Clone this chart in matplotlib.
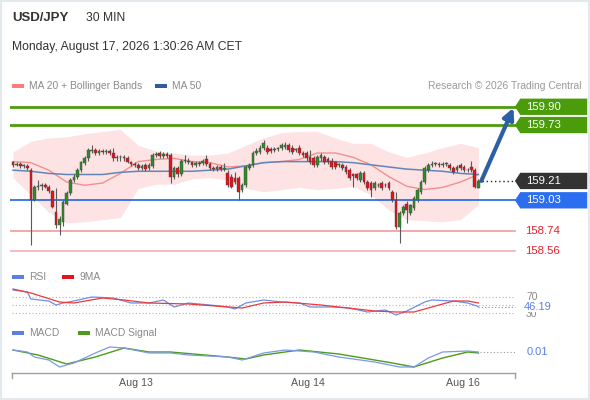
import numpy as np
import matplotlib
matplotlib.use("Agg")
import matplotlib.pyplot as plt
from matplotlib.patches import Polygon, Rectangle
from matplotlib import transforms
from matplotlib.lines import Line2D

plt.rcParams['font.family'] = ['Liberation Sans', 'DejaVu Sans']

# 30 min candles, USD/JPY
opens = [159.39, 159.36, 159.37, 159.35, 159.35, 159.31, 159.03, 159.15, 159.16, 159.17,
         159.15, 159.12, 158.92, 158.80, 158.83, 159.00, 159.10, 159.22, 159.25, 159.31,
         159.38, 159.42, 159.49, 159.50, 159.47, 159.49, 159.48, 159.49, 159.47, 159.42,
         159.43, 159.43, 159.42, 159.39, 159.37, 159.36, 159.33, 159.36, 159.33, 159.35,
         159.45, 159.47, 159.44, 159.46, 159.45, 159.25, 159.33, 159.27, 159.40, 159.40,
         159.39, 159.36, 159.38, 159.38, 159.41, 159.37, 159.33, 159.32, 159.34, 159.32,
         159.28, 159.25, 159.24, 159.24, 159.13, 159.17, 159.33, 159.36, 159.47, 159.48,
         159.52, 159.52, 159.51, 159.50, 159.51, 159.52, 159.53, 159.54, 159.52, 159.50,
         159.52, 159.47, 159.47, 159.43, 159.42, 159.36, 159.42, 159.43, 159.41, 159.40,
         159.39, 159.36, 159.36, 159.34, 159.31, 159.27, 159.27, 159.22, 159.28, 159.20,
         159.19, 159.14, 159.17, 159.19, 159.17, 159.19, 159.11, 159.03, 158.78, 158.91,
         159.00, 158.91, 158.96, 159.03, 159.11, 159.20, 159.31, 159.36, 159.37, 159.37,
         159.36, 159.37, 159.36, 159.33, 159.31, 159.36, 159.34, 159.31, 159.34, 159.31, 159.14]
closes = [159.36, 159.37, 159.35, 159.35, 159.33, 159.03, 159.15, 159.16, 159.17, 159.15,
          159.12, 158.97, 158.80, 158.86, 159.01, 159.10, 159.22, 159.25, 159.31, 159.39,
          159.42, 159.50, 159.50, 159.47, 159.49, 159.48, 159.49, 159.47, 159.42, 159.43,
          159.43, 159.42, 159.39, 159.37, 159.36, 159.33, 159.35, 159.32, 159.36, 159.45,
          159.46, 159.44, 159.46, 159.44, 159.25, 159.33, 159.27, 159.40, 159.40, 159.39,
          159.36, 159.38, 159.37, 159.40, 159.37, 159.33, 159.32, 159.34, 159.32, 159.33,
          159.17, 159.15, 159.20, 159.11, 159.17, 159.34, 159.36, 159.47, 159.49, 159.52,
          159.56, 159.48, 159.49, 159.51, 159.51, 159.54, 159.54, 159.50, 159.48, 159.50,
          159.47, 159.45, 159.42, 159.39, 159.36, 159.43, 159.45, 159.39, 159.39, 159.34,
          159.34, 159.36, 159.33, 159.29, 159.24, 159.26, 159.24, 159.28, 159.20, 159.14,
          159.13, 159.19, 159.17, 159.14, 159.17, 159.14, 159.03, 158.78, 158.91, 158.97,
          158.94, 158.99, 159.05, 159.13, 159.20, 159.33, 159.36, 159.37, 159.37, 159.36,
          159.37, 159.37, 159.33, 159.29, 159.34, 159.33, 159.31, 159.31, 159.31, 159.15, 159.21]
highs = [159.40, 159.39, 159.39, 159.37, 159.37, 159.33, 159.17, 159.22, 159.19, 159.19,
         159.17, 159.13, 159.14, 158.88, 159.03, 159.12, 159.24, 159.27, 159.33, 159.40,
         159.44, 159.52, 159.54, 159.52, 159.51, 159.51, 159.51, 159.51, 159.52, 159.45,
         159.45, 159.45, 159.44, 159.40, 159.39, 159.38, 159.37, 159.38, 159.38, 159.47,
         159.48, 159.49, 159.48, 159.48, 159.47, 159.35, 159.35, 159.41, 159.45, 159.42,
         159.40, 159.40, 159.40, 159.41, 159.45, 159.39, 159.35, 159.36, 159.36, 159.38,
         159.31, 159.27, 159.29, 159.26, 159.19, 159.36, 159.38, 159.49, 159.52, 159.54,
         159.59, 159.54, 159.53, 159.53, 159.53, 159.56, 159.57, 159.56, 159.54, 159.52,
         159.54, 159.49, 159.49, 159.50, 159.44, 159.45, 159.47, 159.45, 159.43, 159.42,
         159.40, 159.38, 159.38, 159.36, 159.33, 159.28, 159.28, 159.30, 159.30, 159.22,
         159.21, 159.21, 159.19, 159.21, 159.19, 159.21, 159.13, 159.11, 158.93, 158.99,
         159.02, 159.00, 159.07, 159.14, 159.22, 159.35, 159.38, 159.40, 159.39, 159.39,
         159.39, 159.39, 159.38, 159.35, 159.36, 159.38, 159.36, 159.33, 159.40, 159.33, 159.23]
lows = [159.34, 159.35, 159.33, 159.33, 159.31, 158.61, 159.02, 159.13, 159.13, 159.14,
        159.10, 158.96, 158.77, 158.71, 158.79, 158.99, 159.08, 159.20, 159.23, 159.29,
        159.36, 159.40, 159.47, 159.45, 159.45, 159.46, 159.46, 159.45, 159.40, 159.40,
        159.40, 159.40, 159.38, 159.35, 159.34, 159.31, 159.31, 159.30, 159.31, 159.33,
        159.43, 159.42, 159.42, 159.42, 159.19, 159.23, 159.25, 159.26, 159.38, 159.37,
        159.34, 159.34, 159.35, 159.36, 159.35, 159.31, 159.30, 159.30, 159.30, 159.30,
        159.15, 159.14, 159.18, 159.03, 159.11, 159.15, 159.31, 159.34, 159.45, 159.46,
        159.50, 159.46, 159.47, 159.48, 159.49, 159.50, 159.51, 159.48, 159.46, 159.48,
        159.45, 159.43, 159.40, 159.37, 159.34, 159.34, 159.40, 159.37, 159.37, 159.32,
        159.32, 159.34, 159.31, 159.27, 159.22, 159.15, 159.22, 159.20, 159.18, 159.13,
        159.06, 159.13, 159.15, 159.13, 159.15, 159.13, 159.01, 158.76, 158.63, 158.89,
        158.82, 158.89, 158.94, 159.01, 159.09, 159.18, 159.29, 159.34, 159.35, 159.34,
        159.34, 159.35, 159.31, 159.27, 159.29, 159.31, 159.29, 159.29, 159.29, 159.14, 159.14]

# indicators read at every 5th candle
band_idx = [0, 5, 10, 15, 20, 25, 30, 35, 40, 45, 50, 55, 60, 65, 70, 75, 80, 85, 90,
            95, 100, 105, 110, 115, 120, 125, 130]
bb_upper = [159.48, 159.58, 159.61, 159.62, 159.65, 159.67, 159.69, 159.54, 159.49, 159.47,
            159.45, 159.45, 159.47, 159.54, 159.61, 159.66, 159.67, 159.67, 159.61, 159.56,
            159.56, 159.48, 159.43, 159.47, 159.52, 159.56, 159.52]
bb_lower = [159.24, 159.08, 158.92, 158.82, 158.83, 158.85, 158.87, 159.14, 159.18, 159.18,
            159.23, 159.24, 159.22, 159.14, 159.11, 159.13, 159.15, 159.13, 159.14, 159.16,
            159.08, 158.94, 158.85, 158.84, 158.83, 158.85, 158.99]
ma20 = [159.39, 159.38, 159.31, 159.20, 159.17, 159.19, 159.28, 159.39, 159.41, 159.42,
        159.39, 159.38, 159.34, 159.35, 159.38, 159.39, 159.41, 159.47, 159.47, 159.43,
        159.36, 159.25, 159.16, 159.13, 159.15, 159.20, 159.27]
ma50 = [159.31, 159.30, 159.28, 159.27, 159.27, 159.27, 159.29, 159.30, 159.30, 159.30,
        159.30, 159.31, 159.32, 159.35, 159.38, 159.39, 159.39, 159.39, 159.39, 159.38,
        159.36, 159.34, 159.32, 159.31, 159.30, 159.28, 159.27]

rsi_idx = [0, 4, 5, 10, 12, 14, 17, 22, 28, 33, 38, 42, 45, 49, 55, 60, 62, 65, 70, 75,
           80, 83, 89, 94, 99, 104, 107, 110, 115, 117, 123, 127, 130]
rsi = [87.5, 82.5, 65, 60, 50, 55, 60, 70, 67.5, 55, 55, 62.5, 45, 55, 50, 45, 40, 55,
       62.5, 57.5, 55, 45, 45, 42.5, 32.5, 37.5, 25, 35, 57.5, 62.5, 60, 55, 46.19]
rsi_ma_idx = [0, 5, 13, 17, 25, 31, 38, 49, 64, 70, 76, 86, 101, 107, 112, 117, 123, 127, 130]
rsi_ma = [90, 80, 57.5, 55, 67.5, 62.5, 55, 52.5, 42.5, 55, 57.5, 50, 35, 32.5, 32.5, 45,
          60, 60, 55]

macd_idx = [0, 4, 6, 10, 13, 17, 23, 27, 31, 38, 44, 49, 60, 64, 70, 76, 84, 91, 101,
            108, 112, 116, 120, 127, 130]
macd = [0.018, 0.010, -0.010, -0.022, -0.050, -0.034, 0.006, 0.030, 0.026, 0.006, 0.006,
        -0.002, -0.010, -0.022, 0.006, 0.018, 0.010, -0.010, -0.030, -0.050, -0.050,
        -0.014, 0.010, 0.014, 0.010]
signal_idx = [0, 7, 15, 23, 31, 38, 44, 60, 65, 70, 80, 91, 106, 112, 120, 127, 130]
signal = [0.018, -0.002, -0.038, -0.010, 0.026, 0.010, 0.010, -0.010, -0.018, -0.002,
          0.018, 0.002, -0.034, -0.050, -0.014, 0.010, 0.006]

day_labels = ['Aug 13', 'Aug 14', 'Aug 16']
day_starts = [34.4, 82.4, 125.7]

resistances = [159.90, 159.73]
pivot = 159.03
supports = [158.74, 158.56]
last_price = 159.21
target = 159.90

W, H = 590.0, 400.0
x = np.arange(len(closes))
xlim = (-0.84, 161.17)
x_end = 140.2   # right end of the plot lines

fig = plt.figure(figsize=(5.9, 4), dpi=100)
fig.patch.set_facecolor('white')
fig.patches.append(Rectangle((0, 0), 1, 1, transform=fig.transFigure, fill=False,
                             ec='#e4e9ed', lw=3))

# header
fig.text(12 / W, 1 - 18 / H, 'USD/JPY', fontsize=9.5, fontweight='bold', color='#333333', va='center')
fig.text(86 / W, 1 - 18 / H, '30 MIN', fontsize=8.7, color='#333333', va='center')
fig.text(12 / W, 1 - 47 / H, 'Monday, August 17, 2026 1:30:26 AM CET', fontsize=8.7,
         color='#333333', va='center')

def legend_item(px, py, color, label):
    fig.patches.append(Rectangle((px / W, 1 - (py + 2) / H), 12 / W, 4 / H,
                                 transform=fig.transFigure, fc=color, ec='none'))
    fig.text((px + 17) / W, 1 - py / H, label, fontsize=7.4, color='#8a8a8a', va='center')

legend_item(12, 86, '#ff7b7b', 'MA 20 + Bollinger Bands')
legend_item(155, 86, '#2f5c9e', 'MA 50')
fig.text(581 / W, 1 - 86 / H, 'Research \u00a9 2026 Trading Central', fontsize=7.4,
         color='#9a9a9a', va='center', ha='right')

# ---- price panel
ax = fig.add_axes([10 / W, 1 - 262 / H, 580 / W, 167 / H])
ax.set_xlim(*xlim)
ax.set_ylim(158.456, 160.0095)
ax.axis('off')

ax.fill_between(band_idx, bb_lower, bb_upper, color='#fde3e3', lw=0, zorder=1)
ax.plot(band_idx, ma20, color='#f29090', lw=1, zorder=2)
ax.plot(band_idx, ma50, color='#6385ba', lw=1.1, zorder=2)

for r in resistances:
    ax.plot([xlim[0], x_end], [r, r], color='#4e9c0c', lw=2, zorder=3)
ax.plot([xlim[0], x_end], [pivot, pivot], color='#2c6fe6', lw=1.3, zorder=3)
ax.plot([xlim[0], x_end], [supports[0], supports[0]], color='#f39a9a', lw=1.2, zorder=3)
ax.plot([xlim[0], x_end], [supports[1], supports[1]], color='#f6b0b0', lw=1.2, zorder=3)

o = np.array(opens)
c = np.array(closes)
up = c >= o
ax.vlines(x, lows, highs, color='#5a5a5a', lw=0.8, zorder=4)
body = np.where(np.abs(c - o) < 0.005, 0.005, c - o)
ax.bar(x, body, bottom=o, width=0.75, color=np.where(up, '#2f8a2a', '#e0141b'),
       edgecolor='#444444', linewidth=0.3, zorder=5)

ax.plot([x[-1] + 1, x_end], [last_price, last_price], color='#222222', lw=1,
        ls=(0, (1, 2)), zorder=3)
ax.annotate('', xy=(x_end - 0.4, target - 0.01), xytext=(x[-1] + 0.8, last_price),
            arrowprops=dict(arrowstyle='-|>', color='#2d5fa6', lw=3, mutation_scale=16,
                            shrinkA=0, shrinkB=0), zorder=6)

def tag(y, text, color, h=0.076):
    ax.add_patch(Polygon([(x_end, y), (x_end + 1.5, y + h), (160.4, y + h),
                          (160.4, y - h), (x_end + 1.5, y - h)], closed=True,
                         fc=color, ec='none', clip_on=False, zorder=7))
    ax.text(143.3, y, text, color='white', fontsize=8.2, va='center', ha='left', zorder=8)

for r in resistances:
    tag(r, f'{r:.2f}', '#4a9c0b')
tag(last_price, f'{last_price:.2f}', '#333333')
tag(pivot, f'{pivot:.2f}', '#2b6ff0')
for s in supports:
    ax.text(143.0, s, f'{s:.2f}', color='#e8202a', fontsize=8.2, va='center', ha='left')

# ---- RSI panel
ax_rsi = fig.add_axes([10 / W, 1 - 320 / H, 580 / W, 35 / H])
ax_rsi.set_xlim(*xlim)
ax_rsi.set_ylim(12.5, 100)
ax_rsi.axis('off')
for lvl in (70, 50, 30):
    ax_rsi.plot([-0.3, x_end], [lvl, lvl], color='#b5b5b5', lw=0.8, ls=(0, (1, 2)))
ax_rsi.plot(rsi_idx, rsi, color='#6f8ee8', lw=0.9, zorder=3)
ax_rsi.plot(rsi_ma_idx, rsi_ma, color='#ec3a3a', lw=0.9, zorder=3)
ax_rsi.plot([x[-1], x_end], [rsi[-1], rsi[-1]], color='#6f8ee8', lw=0.8, ls=(0, (1, 2)))
ax_rsi.text(143.3, 70, '70', color='#888888', fontsize=7.5, va='center')
ax_rsi.text(143.3, 28, '30', color='#888888', fontsize=7.5, va='center')
ax_rsi.text(142.6, rsi[-1], f'{rsi[-1]:.2f}', color='#5b7fe6', fontsize=8, va='center',
            bbox=dict(fc='white', ec='none', pad=0.5))

legend_item(12, 277, '#5b7fe6', 'RSI')
legend_item(62, 277, '#e8141b', '9MA')

# ---- MACD panel
ax_macd = fig.add_axes([10 / W, 1 - 372 / H, 580 / W, 32 / H])
ax_macd.set_xlim(*xlim)
ax_macd.set_ylim(-0.07, 0.058)
ax_macd.axis('off')
ax_macd.plot(signal_idx, signal, color='#4b9c1a', lw=1, zorder=3)
ax_macd.plot(macd_idx, macd, color='#7d98e8', lw=0.9, zorder=4)
ax_macd.plot([x[-1] + 0.5, x_end], [macd[-1], macd[-1]], color='#9a9a9a', lw=0.8,
             ls=(0, (1, 2)))
ax_macd.text(143.5, macd[-1], f'{macd[-1]:.2f}', color='#5b7fe6', fontsize=8, va='center')

legend_item(12, 333, '#5b7fe6', 'MACD')
legend_item(78, 333, '#4b9c1a', 'MACD Signal')

# time axis
tr = transforms.blended_transform_factory(ax_macd.transData, fig.transFigure)
fig.lines.append(Line2D([-0.28, x_end], [1 - 373 / H, 1 - 373 / H], transform=tr,
                        color='#a0a0a0', lw=1))
for xe in (-0.28, x_end):
    fig.lines.append(Line2D([xe, xe], [1 - 373 / H, 1 - 378 / H], transform=tr,
                            color='#a0a0a0', lw=1))
for pos, lab in zip(day_starts, day_labels):
    fig.text(pos, 1 - 383 / H, lab, transform=tr, ha='center', va='center',
             fontsize=7.7, color='#555555')

fig.savefig('out.png', dpi=100)
